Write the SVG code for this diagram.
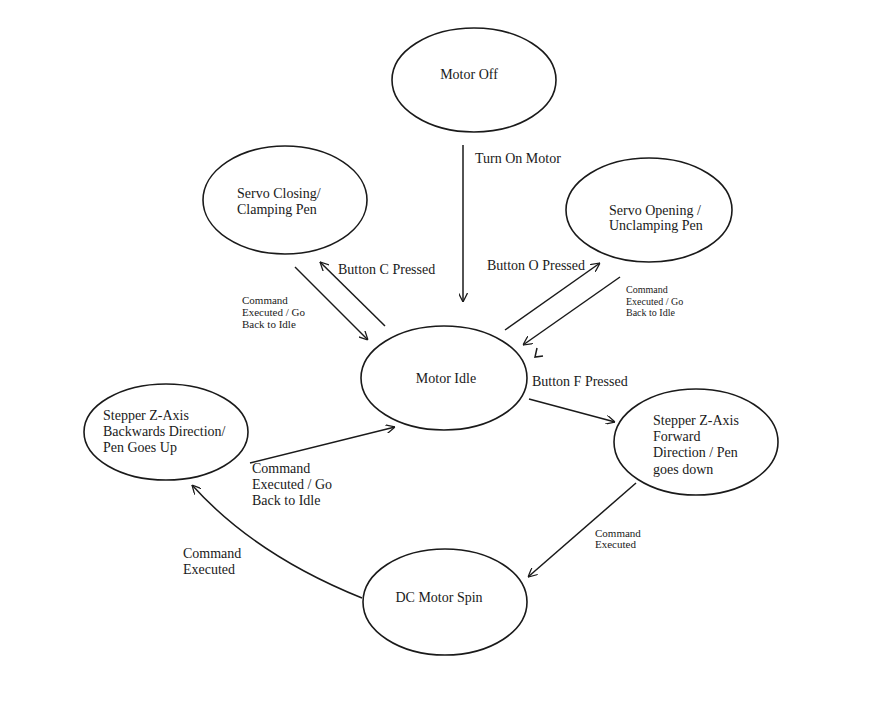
<svg xmlns="http://www.w3.org/2000/svg" width="891" height="712" viewBox="0 0 891 712">
<style>
.n{fill:none;stroke:#1a1a1a;stroke-width:1.6}
.t{font-family:"Liberation Serif","Times New Roman",serif;font-size:14px;fill:#1a1a1a}
.s{font-family:"Liberation Serif","Times New Roman",serif;font-size:11px;fill:#1a1a1a}
.r{font-family:"Liberation Serif","Times New Roman",serif;font-size:10px;fill:#1a1a1a}
.c{fill:none;stroke:#1a1a1a;stroke-width:1.5}
</style>
<defs>
<marker id="a" viewBox="0 0 10 10" refX="10" refY="5" markerWidth="9" markerHeight="9" markerUnits="userSpaceOnUse" orient="auto">
<path d="M0,0 L10,5 L0,10" fill="none" stroke="#1a1a1a" stroke-width="1.4"/>
</marker>
</defs>
<rect width="891" height="712" fill="#fff"/>
<g id="motor-off"><ellipse class="n" cx="474" cy="80" rx="82" ry="52"/><text class="t" x="469" y="79" text-anchor="middle">Motor Off</text></g>
<g id="servo-closing"><ellipse class="n" cx="285" cy="200" rx="82" ry="54"/><text class="t" x="237" y="198">Servo Closing/</text><text class="t" x="237" y="214">Clamping Pen</text></g>
<g id="servo-opening"><ellipse class="n" cx="649" cy="210" rx="83" ry="52"/><text class="t" x="609" y="215">Servo Opening /</text><text class="t" x="609" y="230">Unclamping Pen</text></g>
<g id="motor-idle"><ellipse class="n" cx="444" cy="378" rx="83" ry="52"/><text class="t" x="446" y="383" text-anchor="middle">Motor Idle</text></g>
<g id="stepper-back"><ellipse class="n" cx="166" cy="432" rx="82" ry="48"/><text class="t" x="103" y="420">Stepper Z-Axis</text><text class="t" x="103" y="436">Backwards Direction/</text><text class="t" x="103" y="452">Pen Goes Up</text></g>
<g id="stepper-fwd"><ellipse class="n" cx="696" cy="442" rx="82" ry="53"/><text class="t" x="653" y="425">Stepper Z-Axis</text><text class="t" x="653" y="441">Forward</text><text class="t" x="653" y="457">Direction / Pen</text><text class="t" x="653" y="474">goes down</text></g>
<g id="dc-motor"><ellipse class="n" cx="445" cy="602" rx="82" ry="53"/><text class="t" x="439" y="602" text-anchor="middle">DC Motor Spin</text></g>
<g id="connectors">
<line class="c" x1="463" y1="145" x2="463" y2="302" marker-end="url(#a)"/>
<line class="c" x1="385" y1="326" x2="320" y2="262" marker-end="url(#a)"/>
<line class="c" x1="295" y1="267" x2="368" y2="340" marker-end="url(#a)"/>
<line class="c" x1="505" y1="330" x2="600" y2="263" marker-end="url(#a)"/>
<line class="c" x1="620" y1="277" x2="523" y2="345" marker-end="url(#a)"/>
<path class="c" d="M537,348 L535,357 L543,356"/>
<line class="c" x1="529" y1="399" x2="615" y2="422" marker-end="url(#a)"/>
<line class="c" x1="636" y1="483" x2="528" y2="577" marker-end="url(#a)"/>
<path class="c" d="M362,598 Q255,555 192,485" marker-end="url(#a)"/>
<line class="c" x1="250" y1="463" x2="395" y2="427" marker-end="url(#a)"/>
</g>
<g id="labels">
<text class="t" x="475" y="163">Turn On Motor</text>
<text class="t" x="338" y="274">Button C Pressed</text>
<text class="s" x="242" y="304">Command</text><text class="s" x="242" y="316">Executed / Go</text><text class="s" x="242" y="328">Back to Idle</text>
<text class="t" x="487" y="270">Button O Pressed</text>
<text class="r" x="626" y="293">Command</text><text class="r" x="626" y="305">Executed / Go</text><text class="r" x="626" y="316">Back to Idle</text>
<text class="t" x="532" y="386">Button F Pressed</text>
<text class="s" x="595" y="537">Command</text><text class="s" x="595" y="548">Executed</text>
<text class="t" x="252" y="473">Command</text><text class="t" x="252" y="489">Executed / Go</text><text class="t" x="252" y="505">Back to Idle</text>
<text class="t" x="183" y="558">Command</text><text class="t" x="183" y="574">Executed</text>
</g>
</svg>
